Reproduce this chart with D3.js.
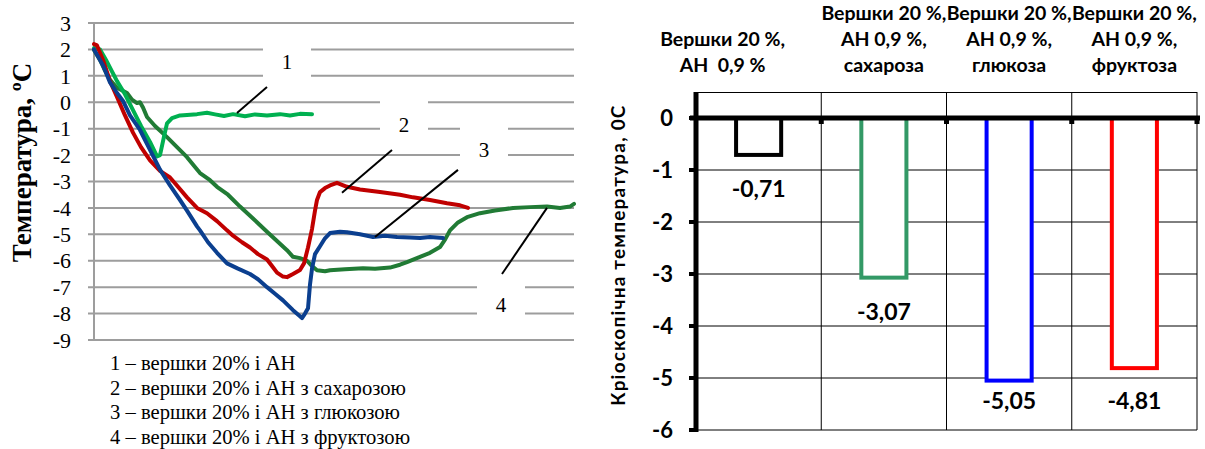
<!DOCTYPE html>
<html>
<head>
<meta charset="utf-8">
<script src="https://cdn.jsdelivr.net/npm/d3@7"></script>
<style>
  body { margin: 0; background: #fff; }
</style>
</head>
<body>
<svg id="chart" width="1205" height="449"></svg>
<script>
// ---------- left chart: freezing curves (time index, °C) ----------
const curve1 = [[0,2.05],[6,2.0],[12,1.6],[23,0.8],[31,0.3],[39,-0.3],[47,-0.9],[56,-1.5],[63,-2.05],[66,-2.0],[70,-1.3],[73,-0.8],[78,-0.6],[86,-0.5],[93,-0.48],[103,-0.45],[113,-0.4],[121,-0.46],[130,-0.52],[139,-0.45],[151,-0.53],[161,-0.46],[173,-0.5],[186,-0.45],[196,-0.5],[206,-0.44],[218,-0.45]];
const curve2 = [[0,2.2],[3,2.15],[9,1.6],[16,0.8],[23,0.2],[31,-0.5],[39,-1.15],[47,-1.7],[56,-2.2],[66,-2.6],[76,-2.85],[84,-3.2],[93,-3.6],[103,-4.0],[113,-4.2],[123,-4.5],[133,-4.85],[139,-5.05],[148,-5.3],[156,-5.5],[164,-5.75],[173,-5.95],[178,-6.2],[183,-6.45],[189,-6.6],[193,-6.62],[199,-6.5],[206,-6.35],[210,-6.1],[214,-5.5],[218,-4.8],[221,-4.1],[223,-3.7],[226,-3.4],[231,-3.25],[236,-3.15],[243,-3.05],[253,-3.2],[266,-3.3],[286,-3.4],[306,-3.5],[319,-3.6],[336,-3.7],[353,-3.82],[366,-3.9],[374,-4.0]];
const curve3 = [[0,2.0],[9,1.4],[16,0.75],[23,0.35],[29,0.05],[36,-0.5],[46,-1.05],[56,-1.8],[66,-2.55],[76,-3.15],[86,-3.7],[93,-4.1],[103,-4.7],[106,-4.85],[114,-5.3],[123,-5.7],[133,-6.1],[144,-6.3],[156,-6.5],[164,-6.7],[173,-7.0],[181,-7.25],[189,-7.5],[199,-7.87],[206,-8.1],[208,-8.17],[211,-8.0],[214,-7.8],[216,-6.9],[218,-6.3],[221,-5.75],[226,-5.45],[231,-5.15],[236,-4.95],[246,-4.9],[253,-4.92],[266,-5.0],[279,-5.1],[291,-5.05],[303,-5.1],[316,-5.12],[326,-5.14],[336,-5.1],[349,-5.14]];
const curve4 = [[0,1.98],[6,1.6],[11,1.2],[16,0.85],[23,0.55],[33,0.35],[38,0.1],[43,-0.03],[46,0.0],[49,-0.2],[53,-0.56],[61,-0.9],[73,-1.32],[83,-1.7],[93,-2.08],[101,-2.45],[106,-2.68],[116,-2.95],[123,-3.2],[134,-3.5],[146,-3.95],[159,-4.4],[173,-4.9],[183,-5.25],[193,-5.6],[199,-5.85],[206,-5.9],[213,-6.0],[218,-6.2],[223,-6.36],[231,-6.4],[236,-6.36],[251,-6.32],[269,-6.28],[281,-6.3],[296,-6.26],[306,-6.15],[313,-6.05],[326,-5.85],[336,-5.7],[346,-5.48],[351,-5.2],[356,-4.85],[364,-4.55],[373,-4.35],[386,-4.2],[401,-4.1],[419,-4.0],[436,-3.97],[453,-3.95],[466,-4.0],[476,-3.95],[480,-3.85]];
const curveColors = ["#00B050", "#C00000", "#0B3F8F", "#217B35"];
const leftTicks = d3.range(-9, 4);
const legendLines = [
  "1 – вершки 20% і АН",
  "2 – вершки 20% і АН з сахарозою",
  "3 – вершки 20% і АН з глюкозою",
  "4 – вершки 20% і АН з фруктозою"
];

// ---------- right chart: cryoscopic temperature ----------
const categories = [
  ["Вершки 20 %,", "АН  0,9 %"],
  ["Вершки 20 %,", "АН 0,9 %,", "сахароза"],
  ["Вершки 20 %,", "АН 0,9 %,", "глюкоза"],
  ["Вершки 20 %,", "АН 0,9 %,", "фруктоза"]
];
const cryoValues = [-0.71, -3.07, -5.05, -4.81];
const cryoLabels = ["-0,71", "-3,07", "-5,05", "-4,81"];
const barColors = ["#000000", "#339966", "#0000FF", "#FF0000"];
const rightTicks = d3.range(-6, 1);

const svg = d3.select("#chart");
const serif = "'Liberation Serif','Times New Roman',serif";
const sans = "Lato,'Open Sans',sans-serif";

// ===== left chart =====
const x = d3.scaleLinear().domain([0, 480]).range([94, 574]);
const y = d3.scaleLinear().domain([-9, 3]).range([340, 23]);
const gL = svg.append("g");

gL.append("g").selectAll("line").data(leftTicks).join("line")
  .attr("x1", 88).attr("x2", 574)
  .attr("y1", d => y(d)).attr("y2", d => y(d))
  .attr("stroke", "#9d9d9d").attr("stroke-width", 2);
gL.append("line")
  .attr("x1", 94).attr("x2", 94).attr("y1", y(3)).attr("y2", y(-9))
  .attr("stroke", "#9d9d9d").attr("stroke-width", 2);

gL.append("g").selectAll("text").data(leftTicks).join("text")
  .attr("x", 71).attr("y", d => y(d)).attr("dy", "0.35em")
  .attr("text-anchor", "end")
  .style("font-family", serif).style("font-size", "22px").style("fill", "#000")
  .text(d => d);

gL.append("text")
  .attr("transform", `translate(31,${(62 + 263) / 2}) rotate(-90)`)
  .attr("text-anchor", "middle")
  .style("font-family", serif).style("font-size", "27px").style("font-weight", "bold")
  .text("Температура, ºС");

// white boxes behind curve numbers (they cut the grid)
const annotations = [
  { text: "1", t: 193, v: 1.52, from: [173, 0.58], to: [143, -0.41] },
  { text: "2", t: 310, v: -0.86, from: [298, -1.81], to: [248, -3.43] },
  { text: "3", t: 390, v: -1.81, from: [364, -2.56], to: [281, -5.1] },
  { text: "4", t: 407, v: -7.67, from: [408, -6.5], to: [453, -4.0] }
];
gL.append("g").selectAll("rect").data(annotations).join("rect")
  .attr("x", d => x(d.t) - 24).attr("y", d => y(d.v) - 25)
  .attr("width", 48).attr("height", 50).attr("fill", "#fff");

const line = d3.line().x(d => x(d[0])).y(d => y(d[1]));
[[curve4, 3], [curve1, 0], [curve2, 1], [curve3, 2]].forEach(([c, k]) => {
  gL.append("path").datum(c)
    .attr("d", line).attr("fill", "none")
    .attr("stroke", curveColors[k]).attr("stroke-width", 4)
    .attr("stroke-linejoin", "round").attr("stroke-linecap", "round");
});

gL.append("g").selectAll("line").data(annotations).join("line")
  .attr("x1", d => x(d.from[0])).attr("y1", d => y(d.from[1]))
  .attr("x2", d => x(d.to[0])).attr("y2", d => y(d.to[1]))
  .attr("stroke", "#000").attr("stroke-width", 2);
gL.append("g").selectAll("text").data(annotations).join("text")
  .attr("x", d => x(d.t)).attr("y", d => y(d.v)).attr("dy", "0.35em")
  .attr("text-anchor", "middle")
  .style("font-family", serif).style("font-size", "21px")
  .text(d => d.text);

gL.append("g").selectAll("text").data(legendLines).join("text")
  .attr("x", 110).attr("y", (d, i) => 370 + i * 24.7)
  .style("font-family", serif).style("font-size", "20.6px")
  .text(d => d);

// ===== right chart =====
const xb = d3.scaleBand().domain(d3.range(categories.length)).range([696, 1197]);
const yb = d3.scaleLinear().domain([-6, 0.5]).range([430, 92]);
const bw = xb.bandwidth();
const gR = svg.append("g");

// grid
gR.append("g").selectAll("line").data(rightTicks.filter(d => d !== 0)).join("line")
  .attr("x1", 696).attr("x2", 1197).attr("y1", d => yb(d)).attr("y2", d => yb(d))
  .attr("stroke", "#000").attr("stroke-width", 1);
gR.append("line").attr("x1", 696).attr("x2", 1197).attr("y1", yb(0.5) + 0.5).attr("y2", yb(0.5) + 0.5)
  .attr("stroke", "#000").attr("stroke-width", 1);
gR.append("g").selectAll("line").data(d3.range(1, categories.length + 1)).join("line")
  .attr("x1", d => 696 + d * bw).attr("x2", d => 696 + d * bw)
  .attr("y1", yb(0.5)).attr("y2", yb(-6))
  .attr("stroke", "#000").attr("stroke-width", 1);

// bars (outlined)
gR.append("g").selectAll("rect").data(cryoValues).join("rect")
  .attr("x", (d, i) => xb(i) + bw / 2 - bw * 0.18)
  .attr("width", bw * 0.36)
  .attr("y", yb(0)).attr("height", d => yb(d) - yb(0))
  .attr("fill", "#fff")
  .attr("stroke", (d, i) => barColors[i]).attr("stroke-width", 4);

// axes (thick)
gR.append("line").attr("x1", 696).attr("x2", 696).attr("y1", yb(0.5)).attr("y2", yb(-6) + 2)
  .attr("stroke", "#000").attr("stroke-width", 5);
gR.append("line").attr("x1", 690).attr("x2", 1200).attr("y1", yb(0)).attr("y2", yb(0))
  .attr("stroke", "#000").attr("stroke-width", 5);
gR.append("g").selectAll("rect").data(rightTicks).join("rect")
  .attr("x", 689).attr("y", d => yb(d) - 2).attr("width", 8).attr("height", 4).attr("fill", "#000");
gR.append("g").selectAll("rect").data(d3.range(1, categories.length + 1)).join("rect")
  .attr("x", d => 696 + d * bw - 2.5).attr("y", yb(0)).attr("width", 5).attr("height", 6).attr("fill", "#000");

gR.append("g").selectAll("text").data(rightTicks).join("text")
  .attr("x", 673).attr("y", d => yb(d)).attr("dy", "0.36em")
  .attr("text-anchor", "end")
  .style("font-family", sans).style("font-size", "22px").style("font-weight", "bold")
  .text(d => d);

gR.append("text")
  .attr("transform", `translate(625,${(97 + 413) / 2}) rotate(-90)`)
  .attr("text-anchor", "middle")
  .style("font-family", sans).style("font-size", "19px").style("font-weight", "bold")
  .style("letter-spacing", "1.2px")
  .text("Кріоскопічна температура, 0С");

// value labels under bars
gR.append("g").selectAll("text").data(cryoValues).join("text")
  .attr("x", (d, i) => xb(i) + bw / 2)
  .attr("y", d => Math.min(yb(d) + 34, yb(-5) + 23)).attr("dy", "0.35em")
  .attr("text-anchor", "middle")
  .style("font-family", sans).style("font-size", "23px").style("font-weight", "bold")
  .text((d, i) => cryoLabels[i]);

// category labels on top
categories.forEach((lines, i) => {
  const cx = xb(i) + bw / 2 - (i === 0 ? 36 : 0);
  lines.forEach((t, j) => {
    gR.append("text")
      .attr("x", cx).attr("y", 65 - (lines.length - 1 - j) * 26).attr("dy", "0.35em")
      .attr("text-anchor", "middle")
      .style("white-space", "pre")
      .style("font-family", sans).style("font-size", "19.5px").style("font-weight", "bold")
      .text(t);
  });
});
</script>
</body>
</html>
